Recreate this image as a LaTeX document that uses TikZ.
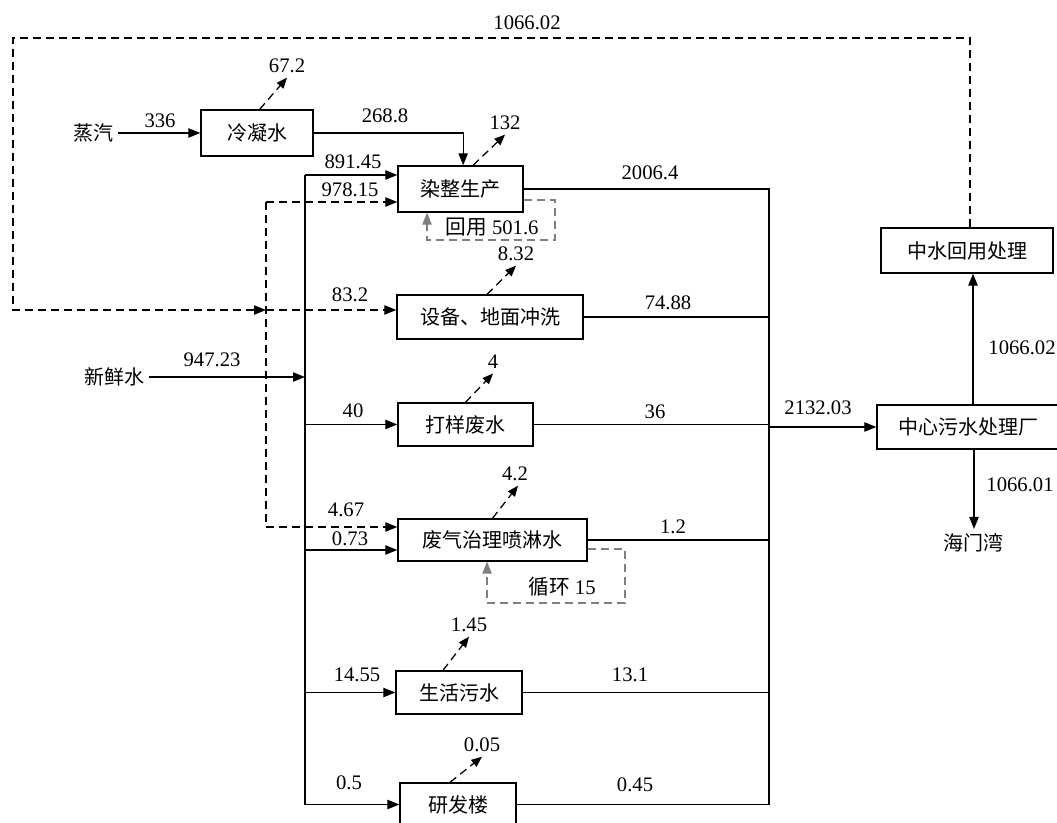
\documentclass[tikz,border=0pt]{standalone}
\usepackage{fontspec}
\setmainfont{Liberation Serif}
\newfontfamily\cjk{Noto Sans CJK SC}
\usetikzlibrary{arrows.meta}
\definecolor{loopGray}{HTML}{7F7F7F}

\begin{document}
\begin{tikzpicture}[x=0.75pt,y=-0.75pt,
  box/.style={draw,line width=1pt,inner sep=0pt,font=\fontsize{15}{18}\cjk},
  txt/.style={font=\fontsize{15}{18}\cjk},
  num/.style={font=\fontsize{15.5}{18}\selectfont},
  flow/.style={line width=.95pt},
  arr/.style={flow,-{Triangle[length=9pt,width=7pt]}},
  dsh/.style={flow,dash pattern=on 6pt off 3.75pt},
  loss/.style={dsh,-{Triangle[length=8pt,width=6.5pt]}},
  recyc/.style={dsh,draw=loopGray}
]
  \useasboundingbox (0,0) rectangle (1057,823);

  % units
  \node[txt] (steam) at (93,133) {蒸汽};
  \node[box,minimum width=84pt,minimum height=34.5pt] (cond) at (257,133) {冷凝水};
  \node[box,minimum width=93.75pt,minimum height=34.5pt] (dye) at (460.5,189) {染整生产};
  \node[box,minimum width=139.5pt,minimum height=33pt] (wash) at (490,317) {设备、地面冲洗};
  \node[box,minimum width=101.25pt,minimum height=32.25pt] (sample) at (465.5,424.5) {打样废水};
  \node[box,minimum width=141.75pt,minimum height=31.5pt] (gas) at (492.5,540) {废气治理喷淋水};
  \node[box,minimum width=94.5pt,minimum height=32.25pt] (life) at (459,692.5) {生活污水};
  \node[box,minimum width=87pt,minimum height=32.25pt] (lab) at (458,804.5) {研发楼};
  \node[txt] (fresh) at (114,377) {新鲜水};
  \node[box,minimum width=129pt,minimum height=33.75pt] (reuse) at (967,250.5) {中水回用处理};
  \node[box,minimum width=136.5pt,minimum height=33pt] (plant) at (968,427) {中心污水处理厂};
  \node[txt] (bay) at (973,543) {海门湾};

  % flow values
  \node[num] (vTop) at (527,23) {1066.02};
  \node[num] (vSteam) at (160,121) {336};
  \node[num] (vCondLoss) at (287,66) {67.2};
  \node[num] (vCond) at (385,116) {268.8};
  \node[num] (vDyeLoss) at (505,123) {132};
  \node[num] (vDyeIn) at (353,162) {891.45};
  \node[num] (vDyeRe) at (350,190) {978.15};
  \node[num] (vDyeOut) at (650,173) {2006.4};
  \node[num] (vReuse) at (492,227) {{\cjk 回用} 501.6};
  \node[num] (vWashLoss) at (516,254) {8.32};
  \node[num] (vWashIn) at (350,295) {83.2};
  \node[num] (vWashOut) at (668,303) {74.88};
  \node[num] (vFresh) at (212,360) {947.23};
  \node[num] (vSampLoss) at (493,362) {4};
  \node[num] (vSampIn) at (353,411) {40};
  \node[num] (vSampOut) at (655,412) {36};
  \node[num] (vTotal) at (818,408) {2132.03};
  \node[num] (vUp) at (1022,348) {1066.02};
  \node[num] (vDown) at (1020,485) {1066.01};
  \node[num] (vGasLoss) at (515,474) {4.2};
  \node[num] (vGasRe) at (346,510) {4.67};
  \node[num] (vGasIn) at (350,539) {0.73};
  \node[num] (vGasOut) at (673,527) {1.2};
  \node[num] (vCycle) at (562,587) {{\cjk 循环} 15};
  \node[num] (vLifeLoss) at (469,625) {1.45};
  \node[num] (vLifeIn) at (357,675) {14.55};
  \node[num] (vLifeOut) at (630,675) {13.1};
  \node[num] (vLabLoss) at (482,745) {0.05};
  \node[num] (vLabIn) at (349,783) {0.5};
  \node[num] (vLabOut) at (635,785) {0.45};

  % steam side
  \draw[arr] (steam) -- (cond);
  \draw[arr] (cond.east) -| ([xshift=2pt]dye.north);

  % fresh water bus
  \coordinate (busT) at (305,175);
  \coordinate (gasIn) at ([yshift=-7.5pt]gas.west);
  \draw[arr] (fresh) -- (busT |- fresh);
  \draw[arr] (busT) -- (busT -| dye.west);
  \draw[arr] (busT) |- (lab.west);
  \draw[arr] (gasIn -| busT) -- (gasIn);
  \foreach \n in {sample,life}
    \draw[arr] (busT |- \n.west) -- (\n.west);

  % reused water
  \coordinate (dvT) at (266,202);
  \coordinate (dvM) at (266,310);
  \coordinate (loopTL) at (13,38);
  \coordinate (gasRe) at ([yshift=9.75pt]gas.west);
  \draw[dsh,arr] (dvT) -- (dvT -| dye.west);
  \draw[dsh,arr] (dvT) |- (gasRe);
  \draw[dsh,arr] ([xshift=2.25pt]reuse.north) |- (loopTL) |- (dvM);
  \draw[dsh,arr] (dvM) -- (dvM -| wash.west);

  % losses
  \draw[loss] ([xshift=2pt]cond.north) -- (vCondLoss.south);
  \draw[loss] ([xshift=9.4pt]dye.north) -- (vDyeLoss.south);
  \draw[loss] ([xshift=-2.25pt]wash.north) -- (vWashLoss.south);
  \draw[loss] (sample.north) -- (vSampLoss.south);
  \draw[loss] (gas.north) -- ([xshift=2.25pt]vGasLoss.south);
  \draw[loss] ([xshift=-12pt]life.north) -- (vLifeLoss.south);
  \draw[loss] ([xshift=-6pt]lab.north) -- (vLabLoss.south);

  % internal loops
  \coordinate (reuseR) at (555,240);
  \coordinate (cycR) at (625,603);
  \draw[recyc,arr] ([yshift=-8.25pt]dye.east) -| (reuseR) -| ([xshift=-25.1pt]dye.south);
  \draw[recyc,arr] ([yshift=-6.75pt]gas.east) -| (cycR) -| ([xshift=-4.1pt]gas.south);

  % wastewater collector
  \coordinate (colT) at (769,189);
  \draw[flow] (dye.east) -- (colT) |- (lab.east);
  \foreach \n in {wash,sample,gas,life}
    \draw[flow] (\n.east) -- (\n.east -| colT);
  \draw[arr] (colT |- plant.west) -- (plant.west);
  \coordinate (upX) at ([xshift=3.75pt]plant.north);
  \coordinate (dnX) at ([xshift=4.5pt]plant.south);
  \draw[arr] (upX) -- (upX |- reuse.south);
  \draw[arr] (dnX) -- (dnX |- bay.north);
\end{tikzpicture}
\end{document}
